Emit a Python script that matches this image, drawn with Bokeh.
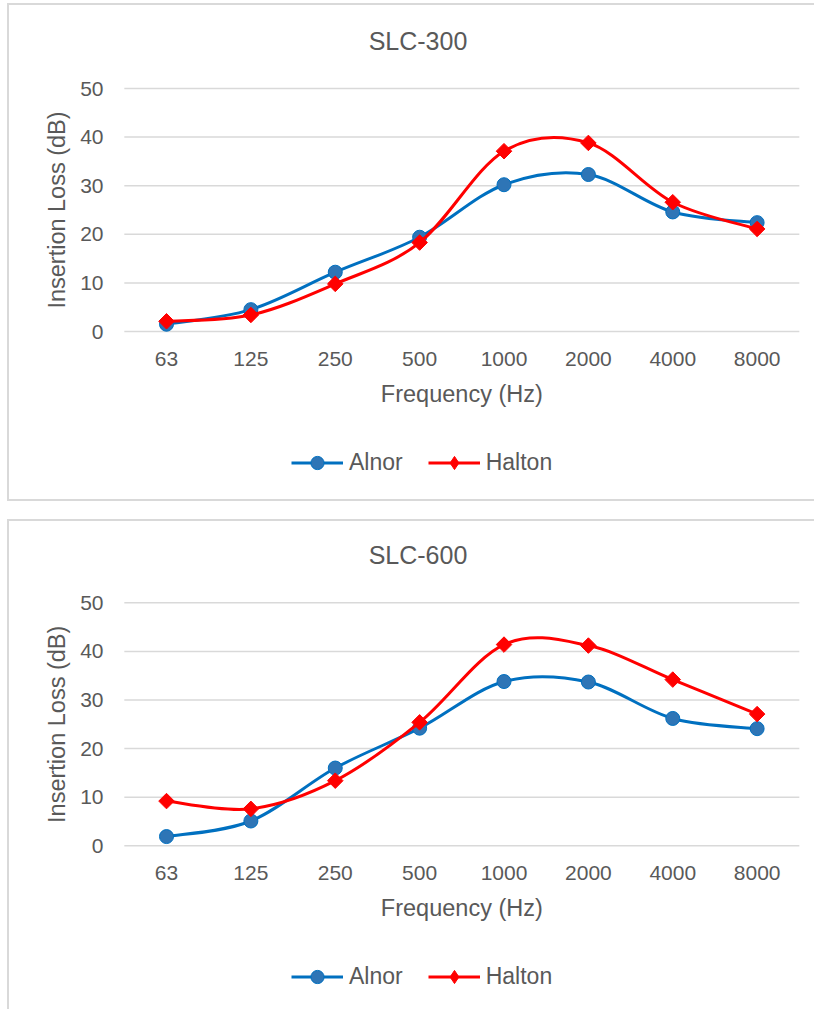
import math
from bokeh.plotting import figure
from bokeh.models import Range1d, Legend, LegendItem, ColumnDataSource
from bokeh.layouts import column
from bokeh.embed import file_html
from bokeh.resources import INLINE
from bokeh.core.properties import value

# ---- data ----
freqs = ["63", "125", "250", "500", "1000", "2000", "4000", "8000"]
y_ticks = [0, 10, 20, 30, 40, 50]
titles = ["SLC-300", "SLC-600"]
series_names = ["Alnor", "Halton"]
x_title = "Frequency (Hz)"
y_title = "Insertion Loss (dB)"
alnor_300 = [1.5, 4.5, 12.2, 19.4, 30.2, 32.3, 24.6, 22.4]
halton_300 = [2.1, 3.4, 9.8, 18.3, 37.1, 38.8, 26.6, 21.1]
alnor_600 = [1.9, 5.1, 16.0, 24.2, 33.8, 33.7, 26.2, 24.1]
halton_600 = [9.2, 7.6, 13.4, 25.4, 41.4, 41.2, 34.2, 27.1]

FONT = "Liberation Sans"
TXT = "#595959"
GRID = "#D9D9D9"
BLUE_LINE = "#0070C0"
BLUE_FILL = "#2E75B6"
RED = "#FF0000"

W = 807            # figure width (content)
CAT_PX = 84.375    # pixels per category
X0_PX = 157        # content x of first category centre
GH = 33            # legend glyph height


def xd(px):
    return (px - X0_PX) / CAT_PX


def bezier_source(xs, vals):
    """Smooth (Catmull-Rom style) control points built from the data points."""
    n = len(vals)
    d = dict(x0=[], y0=[], x1=[], y1=[], cx0=[], cy0=[], cx1=[], cy1=[])
    t = 1.0 / 6.0
    for i in range(n - 1):
        a = max(i - 1, 0)
        b = min(i + 2, n - 1)
        d["x0"].append(xs[i]); d["y0"].append(vals[i])
        d["x1"].append(xs[i + 1]); d["y1"].append(vals[i + 1])
        d["cx0"].append(xs[i] + (xs[i + 1] - xs[a]) * t)
        d["cy0"].append(vals[i] + (vals[i + 1] - vals[a]) * t)
        d["cx1"].append(xs[i + 1] - (xs[b] - xs[i]) * t)
        d["cy1"].append(vals[i + 1] - (vals[b] - vals[i]) * t)
    return ColumnDataSource(d)


def make_chart(title, alnor, halton, height, zero_px, top_px, border_css, margin):
    ppu = (zero_px - top_px) / float(y_ticks[-1])

    def yd(py):
        return (zero_px - py) / ppu

    n = len(freqs)
    idx = list(range(n))
    p = figure(width=W, height=height,
               x_range=Range1d(xd(0), xd(W)),
               y_range=Range1d(yd(height), yd(0)),
               output_backend="svg", toolbar_location=None, min_border=0)
    p.styles = border_css
    p.margin = margin
    p.outline_line_color = None
    p.axis.visible = False
    p.grid.visible = False
    p.background_fill_color = "white"
    p.border_fill_color = "white"

    # horizontal gridlines at the y ticks, spanning the category band
    p.segment(x0=[idx[0] - 0.5] * len(y_ticks), x1=[idx[-1] + 0.5] * len(y_ticks),
              y0=y_ticks, y1=y_ticks, line_color=GRID, line_width=1.5)

    # tick labels
    p.text(x=[xd(94)] * len(y_ticks), y=y_ticks, text=[str(v) for v in y_ticks],
           text_font=value(FONT), text_font_size="21px", text_color=TXT,
           text_align="right", text_baseline="middle")
    p.text(x=idx, y=[yd(zero_px + 27)] * n, text=freqs,
           text_font=value(FONT), text_font_size="21px", text_color=TXT,
           text_align="center", text_baseline="middle")

    # axis titles and chart title
    p.text(x=[(idx[0] + idx[-1]) / 2.0], y=[yd(zero_px + 62)], text=[x_title],
           text_font=value(FONT), text_font_size="23.5px", text_color=TXT,
           text_align="center", text_baseline="middle")
    p.text(x=[xd(47.5)], y=[(y_ticks[0] + y_ticks[-1]) / 2.0], text=[y_title],
           angle=math.pi / 2,
           text_font=value(FONT), text_font_size="23.5px", text_color=TXT,
           text_align="center", text_baseline="middle")
    p.text(x=[xd(408.5)], y=[yd(top_px - 48)], text=[title],
           text_font=value(FONT), text_font_size="25px", text_color=TXT,
           text_align="center", text_baseline="middle")

    # series
    b1 = p.bezier(x0="x0", y0="y0", x1="x1", y1="y1", cx0="cx0", cy0="cy0",
                  cx1="cx1", cy1="cy1", source=bezier_source(idx, alnor),
                  line_color=BLUE_LINE, line_width=3)
    s1 = p.scatter(x=idx, y=alnor, marker="circle", size=14,
                   fill_color=BLUE_FILL, line_color=BLUE_LINE, line_width=1)
    b2 = p.bezier(x0="x0", y0="y0", x1="x1", y1="y1", cx0="cx0", cy0="cy0",
                  cx1="cx1", cy1="cy1", source=bezier_source(idx, halton),
                  line_color=RED, line_width=3)
    p.scatter(x=idx, y=halton, marker="square", size=11, angle=math.pi / 4,
              fill_color=RED, line_color=RED, line_width=1)
    # diamond key for the legend only (hidden in the plot; the legend swatch
    # does not rotate the square markers)
    s2_key = p.scatter(x=idx, y=halton, marker="diamond", size=14,
                       fill_color=RED, line_color=RED, line_width=1)
    s2_key.visible = False

    leg_center = zero_px + 131
    legend = Legend(items=[LegendItem(label=series_names[0], renderers=[b1, s1]),
                           LegendItem(label=series_names[1], renderers=[b2, s2_key])],
                    location=(282, height - (leg_center + GH / 2.0)),
                    orientation="horizontal",
                    border_line_color=None, background_fill_alpha=0,
                    padding=0, margin=0, spacing=25, label_standoff=6,
                    glyph_width=52, glyph_height=GH,
                    label_text_font=FONT, label_text_font_size="23px",
                    label_text_color=TXT)
    p.add_layout(legend)
    return p


p1 = make_chart(titles[0], alnor_300, halton_300, 498, 326, 83,
                {"border-left": "2px solid #D9D9D9", "border-top": "2px solid #D9D9D9",
                 "border-bottom": "2px solid #D9D9D9"},
                (3, 0, 0, 7))
p2 = make_chart(titles[1], alnor_600, halton_600, 490, 324.3, 81.3,
                {"border-left": "2px solid #D9D9D9", "border-top": "2px solid #D9D9D9"},
                (18, 0, 0, 7))

layout = column(p1, p2, spacing=0)
open("out.html", "w").write(file_html(layout, INLINE))
